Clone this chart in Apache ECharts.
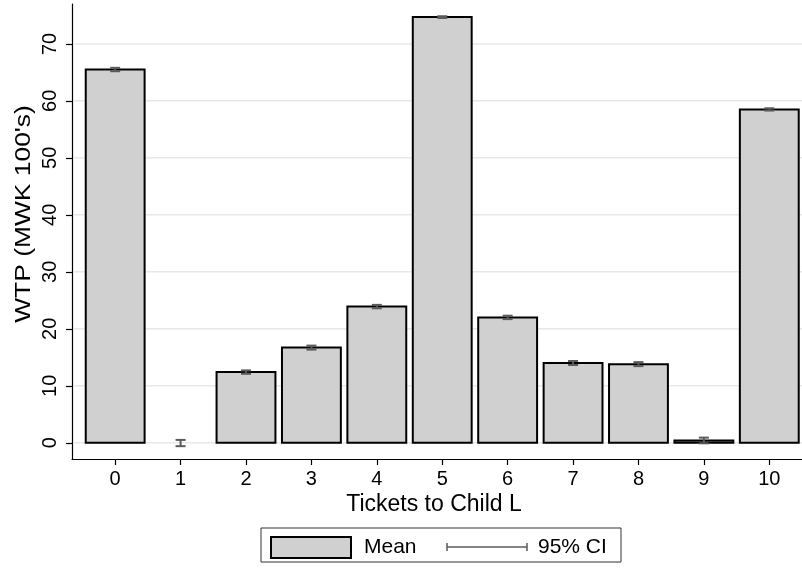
<!DOCTYPE html>
<html>
<head>
<meta charset="utf-8">
<script src="https://cdn.jsdelivr.net/npm/echarts@6/dist/echarts.min.js"></script>
<style>
  html, body { margin: 0; padding: 0; background: #fff; }
  #chart { width: 802px; height: 571px; }
</style>
</head>
<body>
<div id="chart"></div>
<script>
// Tickets given to child L (categories on the x axis)
var tickets = [0, 1, 2, 3, 4, 5, 6, 7, 8, 9, 10];
// Mean willingness to pay, MWK 100's
var meanWTP = [65.5, 0.0, 12.4, 16.7, 23.9, 74.7, 22.0, 14.0, 13.8, 0.4, 58.5];
// 95% confidence interval bounds
var ciLow  = [65.2, -0.6, 12.1, 16.35, 23.6, 74.55, 21.7, 13.65, 13.45, -0.1, 58.3];
var ciHigh = [65.8, 0.5, 12.7, 17.05, 24.2, 74.85, 22.3, 14.35, 14.15, 0.9, 58.7];
// Y axis tick labels
var yTicks = [0, 10, 20, 30, 40, 50, 60, 70];

var FONT = '"Liberation Sans", Arial, Helvetica, sans-serif';
var chart = echarts.init(document.getElementById('chart'), null, { renderer: 'canvas' });

var barData = tickets.map(function (t, i) { return [t, meanWTP[i]]; });
var ciData = tickets.map(function (t, i) { return [t, ciLow[i], ciHigh[i]]; });

chart.setOption({
  animation: false,
  backgroundColor: '#ffffff',
  grid: { left: 72, right: 0, top: 4, bottom: 112, containLabel: false },
  xAxis: {
    type: 'value',
    min: -0.66,
    max: 10.5,
    axisLine: { show: true, onZero: false, lineStyle: { color: '#000', width: 1.2 } },
    axisTick: { show: true, length: 6, customValues: tickets, lineStyle: { color: '#000', width: 1.2 } },
    axisLabel: { customValues: tickets, margin: 10, fontSize: 20, color: '#000', fontFamily: FONT },
    splitLine: { show: false }
  },
  yAxis: {
    type: 'value',
    min: -2.85,
    max: 77,
    axisLine: { show: true, onZero: false, lineStyle: { color: '#000', width: 1.2 } },
    axisTick: { show: true, length: 6, customValues: yTicks, lineStyle: { color: '#000', width: 1.2 } },
    axisLabel: { customValues: yTicks, rotate: 90, margin: 12, fontSize: 20, color: '#000', fontFamily: FONT },
    splitLine: { show: false }
  },
  series: [
    {
      // horizontal grid lines at each y tick
      type: 'custom',
      z: 1,
      silent: true,
      data: yTicks.map(function (v) { return [0, v]; }),
      encode: { x: 0, y: 1 },
      renderItem: function (params, api) {
        var cs = params.coordSys;
        var y = api.coord([0, api.value(1)])[1];
        return {
          type: 'line',
          shape: { x1: cs.x + 1, y1: y, x2: cs.x + cs.width, y2: y },
          style: { stroke: '#e8e8e8', lineWidth: 1.5 }
        };
      }
    },
    {
      name: 'Mean',
      type: 'custom',
      z: 2,
      data: barData,
      encode: { x: 0, y: 1 },
      renderItem: function (params, api) {
        var x = api.value(0);
        var v = api.value(1);
        var p0 = api.coord([x, 0]);
        var p1 = api.coord([x, v]);
        var w = api.size([0.9, 0])[0];
        var top = Math.min(p0[1], p1[1]);
        var h = Math.abs(p0[1] - p1[1]);
        if (h < 0.5) { return null; } // a zero mean leaves no visible bar
        return {
          type: 'rect',
          shape: { x: p0[0] - w / 2, y: top, width: w, height: h },
          style: { fill: '#d0d0d0', stroke: '#000', lineWidth: 2 }
        };
      }
    },
    {
      name: '95% CI',
      type: 'custom',
      z: 3,
      data: ciData,
      encode: { x: 0, y: [1, 2] },
      renderItem: function (params, api) {
        var x = api.value(0);
        var lo = api.coord([x, api.value(1)]);
        var hi = api.coord([x, api.value(2)]);
        var cap = 5;
        var st = { stroke: '#5a5a5a', lineWidth: 2 };
        return {
          type: 'group',
          children: [
            { type: 'line', shape: { x1: lo[0], y1: lo[1], x2: hi[0], y2: hi[1] }, style: st },
            { type: 'line', shape: { x1: lo[0] - cap, y1: lo[1], x2: lo[0] + cap, y2: lo[1] }, style: st },
            { type: 'line', shape: { x1: hi[0] - cap, y1: hi[1], x2: hi[0] + cap, y2: hi[1] }, style: st }
          ]
        };
      }
    }
  ],
  graphic: [
    {
      type: 'text',
      x: 24, y: 214, rotation: Math.PI / 2, scaleX: 1.2,
      style: { text: "WTP (MWK 100's)", fontSize: 22, fontFamily: FONT, fill: '#000', align: 'center', verticalAlign: 'middle' }
    },
    {
      type: 'text',
      x: 434, y: 505,
      style: { text: 'Tickets to Child L', fontSize: 23, fontFamily: FONT, fill: '#000', align: 'center', verticalAlign: 'middle' }
    },
    {
      type: 'group',
      children: [
        { type: 'rect', shape: { x: 261, y: 528, width: 360, height: 34 }, style: { fill: '#fff', stroke: '#333', lineWidth: 1 } },
        { type: 'rect', shape: { x: 271, y: 537, width: 80, height: 21 }, style: { fill: '#d0d0d0', stroke: '#000', lineWidth: 2 } },
        { type: 'text', x: 364, y: 547, style: { text: 'Mean', fontSize: 21, fontFamily: FONT, fill: '#000', verticalAlign: 'middle' } },
        { type: 'line', shape: { x1: 447, y1: 547, x2: 527, y2: 547 }, style: { stroke: '#5a5a5a', lineWidth: 1.5 } },
        { type: 'line', shape: { x1: 447, y1: 543, x2: 447, y2: 551 }, style: { stroke: '#5a5a5a', lineWidth: 1.5 } },
        { type: 'line', shape: { x1: 527, y1: 543, x2: 527, y2: 551 }, style: { stroke: '#5a5a5a', lineWidth: 1.5 } },
        { type: 'text', x: 538, y: 547, style: { text: '95% CI', fontSize: 21, fontFamily: FONT, fill: '#000', verticalAlign: 'middle' } }
      ]
    }
  ]
});
</script>
</body>
</html>
